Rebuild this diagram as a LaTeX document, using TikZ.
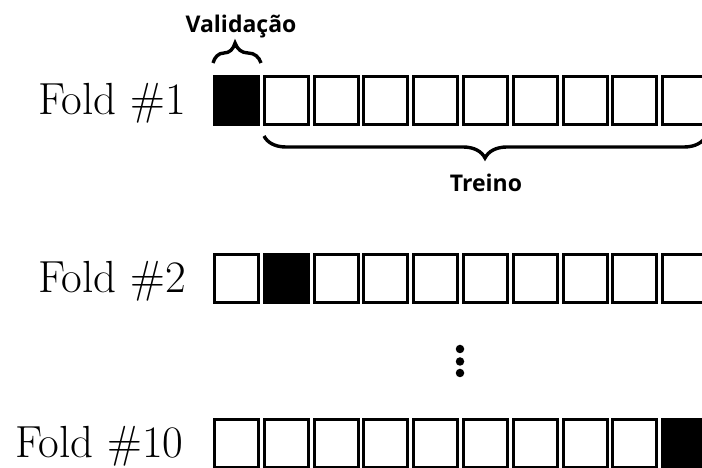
\documentclass[tikz,border=0pt]{standalone}
\usepackage{fontspec}
\newfontfamily\labelfont{Open Sans}
\usetikzlibrary{decorations.pathreplacing}
\begin{document}
\begin{tikzpicture}[x=1pt,y=1pt,
  cell/.style={draw=black,line width=3pt,fill=white},
  valcell/.style={draw=black,line width=3pt,fill=black},
  foldlabel/.style={anchor=base west,inner sep=0pt,font=\fontsize{45}{54}\selectfont},
  bracelabel/.style={anchor=base,inner sep=0pt,font=\labelfont\bfseries\fontsize{23}{28}\selectfont},
  curly/.style={decorate,line width=3.4pt},
  dot/.style={circle,fill=black,inner sep=0pt,minimum size=8.5pt}]
\useasboundingbox (0,0) rectangle (702,468);

% one row of ten cells; #1 = top of the row, #2 = index of the validation cell
\def\foldrow#1#2#3{%
  \foreach \i in {0,...,9}{%
    \pgfmathsetmacro\xl{213+49.8*\i+1.5}%
    \pgfmathsetmacro\xr{213+49.8*\i+45.5}%
    \ifnum\i=#2\relax
      \path[valcell] (\xl,#1-1.5) rectangle (\xr,#1-49.5);
    \else
      \path[cell] (\xl,#1-1.5) rectangle (\xr,#1-49.5);
    \fi
    \coordinate (#3\i) at (\xl,#1);
  }}

\foldrow{393}{0}{a}
\foldrow{215}{1}{b}
\foldrow{50}{9}{c}

\node[foldlabel] (f1) at (38,353) {Fold \#1};
\node[foldlabel] (f2) at (38,175) {Fold \#2};
\node[foldlabel] (f10) at (15,10) {Fold \#10};

% braces over the validation cell and under the training cells
\coordinate (vl) at (213,405);
\coordinate (vr) at (261,405);
\draw[curly,decoration={brace,amplitude=20pt,aspect=0.46}] (vl) -- (vr);
\node[bracelabel] (val) at (241,435) {Validação};

\coordinate (tl) at (264,332);
\coordinate (tr) at (706,332);
\draw[curly,decoration={brace,mirror,amplitude=22pt}] (tl) -- (tr);
\node[bracelabel] (tre) at (486,276) {Treino};

% vertical ellipsis between the rows
\node[dot] (d1) at (460,119) {};
\node[dot] (d2) at (460,106.5) {};
\node[dot] (d3) at (460,95) {};
\end{tikzpicture}
\end{document}
